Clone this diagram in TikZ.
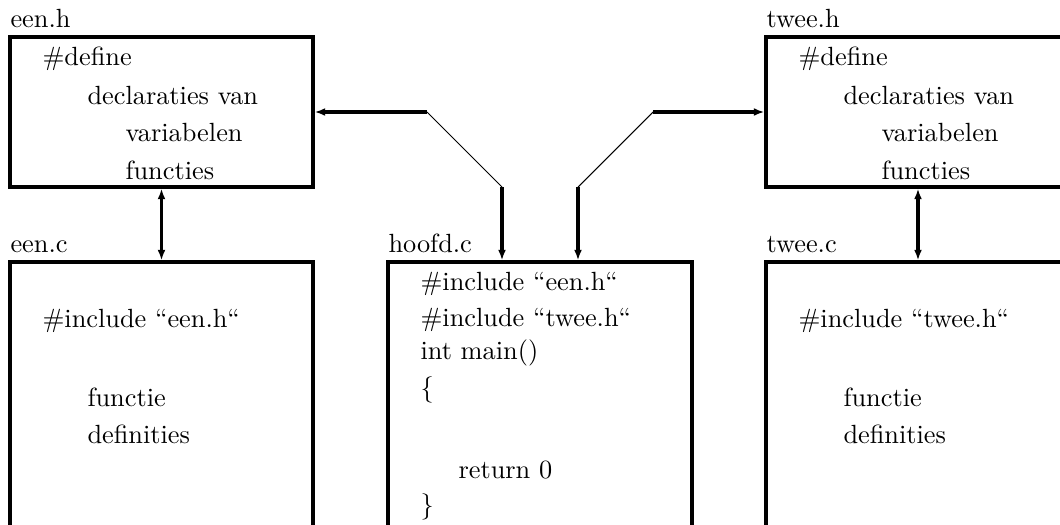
\documentclass[tikz,border=0pt]{standalone}
\usepackage{tikz}
\usetikzlibrary{arrows.meta, positioning, fit}
\tikzstyle{bestand} = [draw, rectangle, line width=1.2pt, inner sep=0pt]
\tikzstyle{naam} = [anchor=base west, inner sep=0pt]
\tikzstyle{regel} = [anchor=base west, inner sep=0pt]
\tikzstyle{pijl} = [line width=1.2pt, -{Latex[length=4pt,width=3pt]}]
\tikzstyle{dubbelpijl} = [line width=1.2pt, {Latex[length=4pt,width=3pt]}-{Latex[length=4pt,width=3pt]}]
\tikzstyle{schuin} = [line width=0.4pt]

\begin{document}
\begin{tikzpicture}[x=0.38pt, y=-0.38pt]
	\useasboundingbox (0,0) rectangle (1060,524);
	\clip (0,0) rectangle (1060,524);
	% de bestanden
	\node[bestand, fit={(10,37) (313,187)}] (eenh) {};
	\node[bestand, fit={(10,262) (313,545)}] (eenc) {};
	\node[bestand, fit={(388,262) (692,545)}] (hoofdc) {};
	\node[bestand, fit={(766,37) (1070,187)}] (tweeh) {};
	\node[bestand, fit={(766,262) (1070,545)}] (tweec) {};
	% namen boven de bestanden
	\node[naam] (naam-eenh) at (10,27) {een.h};
	\node[naam] (naam-eenc) at (10,252) {een.c};
	\node[naam] (naam-hoofdc) at (388,252) {hoofd.c};
	\node[naam] (naam-tweeh) at (766,27) {twee.h};
	\node[naam] (naam-tweec) at (766,252) {twee.c};
	% een.h
	\node[regel] (eenh-1) at (42,65) {\#define};
	\node[regel] (eenh-2) at (87,104) {declaraties van};
	\node[regel] (eenh-3) at (125,141) {variabelen};
	\node[regel] (eenh-4) at (125,179) {functies};
	% twee.h
	\node[regel] (tweeh-1) at (798,65) {\#define};
	\node[regel] (tweeh-2) at (843,104) {declaraties van};
	\node[regel] (tweeh-3) at (881,141) {variabelen};
	\node[regel] (tweeh-4) at (881,179) {functies};
	% een.c
	\node[regel] (eenc-1) at (42,327) {\#include “een.h“};
	\node[regel] (eenc-2) at (87,406) {functie};
	\node[regel] (eenc-3) at (87,443) {definities};
	% twee.c
	\node[regel] (tweec-1) at (798,327) {\#include “twee.h“};
	\node[regel] (tweec-2) at (843,406) {functie};
	\node[regel] (tweec-3) at (843,443) {definities};
	% hoofd.c
	\node[regel] (hoofdc-1) at (420,290) {\#include “een.h“};
	\node[regel] (hoofdc-2) at (420,326) {\#include “twee.h“};
	\node[regel] (hoofdc-3) at (420,359) {int main()};
	\node[regel] (hoofdc-4) at (420,396) {\{};
	\node[regel] (hoofdc-5) at (458,478) {return 0};
	\node[regel] (hoofdc-6) at (420,513) {\}};
	% knikpunten van de verbindingen
	\coordinate (knikL1) at (502,187);
	\coordinate (knikL2) at (427,112);
	\coordinate (knikR1) at (578,187);
	\coordinate (knikR2) at (653,112);
	% verbindingen
	\draw[dubbelpijl] (eenh.south) -- (eenc.north);
	\draw[dubbelpijl] (tweeh.south) -- (tweec.north);
	\draw[pijl] (knikL2) -- (knikL2 -| eenh.east);
	\draw[schuin] (knikL2) -- (knikL1);
	\draw[pijl] (knikL1) -- (knikL1 |- hoofdc.north);
	\draw[pijl] (knikR2) -- (knikR2 -| tweeh.west);
	\draw[schuin] (knikR2) -- (knikR1);
	\draw[pijl] (knikR1) -- (knikR1 |- hoofdc.north);
\end{tikzpicture}
\end{document}
